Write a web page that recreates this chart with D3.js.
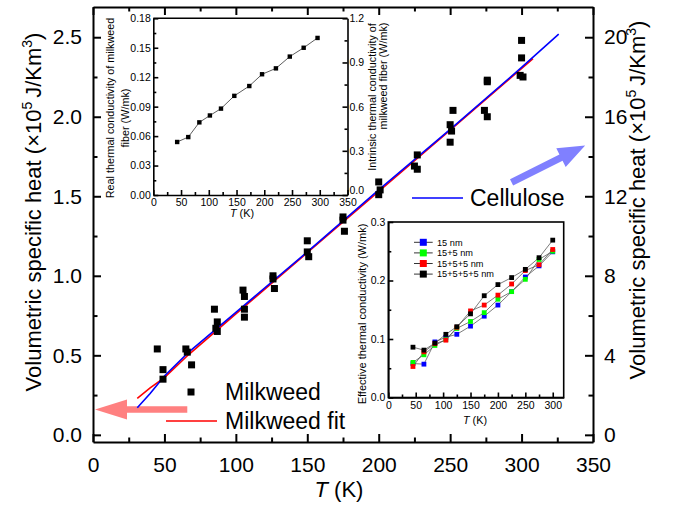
<!DOCTYPE html>
<html>
<head>
<meta charset="utf-8">
<script src="https://cdn.jsdelivr.net/npm/d3@7"></script>
<style>
  body { margin: 0; background: #fff; }
  svg { font-family: "Liberation Sans", Arial, sans-serif; }
</style>
</head>
<body>
<svg id="chart" width="674" height="505"></svg>
<script>
// main panel: milkweed volumetric specific heat (x1e5 J/Km^3)
var milkT = [45, 49, 49, 65, 66, 69, 85, 87, 86, 87, 105, 106, 106, 106, 126, 126, 127, 150, 150, 151,
             175, 175, 176, 200, 201, 200, 227, 225, 227, 252, 250, 251, 250, 276, 276, 274, 276, 300, 300, 299, 301];
var milkC = [0.54, 0.41, 0.35, 0.54, 0.52, 0.44, 0.79, 0.71, 0.67, 0.65, 0.91, 0.87, 0.79, 0.74, 1.00, 0.98, 0.92, 1.22, 1.15, 1.12,
             1.37, 1.35, 1.28, 1.59, 1.54, 1.51, 1.76, 1.69, 1.67, 2.04, 1.95, 1.91, 1.84, 2.23, 2.22, 2.04, 2.00, 2.48, 2.37, 2.26, 2.25];

// milkweed fit (red) and cellulose (blue)
var fitT = [31, 40, 50, 67, 100, 150, 200, 250, 308];
var fitC = [0.23, 0.295, 0.36, 0.505, 0.76, 1.145, 1.53, 1.915, 2.365];
var celT = [31, 40, 50, 67, 100, 150, 200, 250, 300, 326];
var celC = [0.17, 0.26, 0.37, 0.52, 0.77, 1.15, 1.54, 1.92, 2.31, 2.52];

// top-left inset: real thermal conductivity of milkweed fiber
var realT = [43, 63, 83, 102, 122, 146, 173, 196, 221, 246, 271, 296];
var realK = [0.054, 0.059, 0.074, 0.081, 0.088, 0.101, 0.111, 0.123, 0.129, 0.141, 0.150, 0.160];

// bottom-right inset: effective thermal conductivity
var effT = [45, 65, 85, 105, 125, 150, 175, 200, 225, 250, 275, 300];
var effNames = ["15 nm", "15+5 nm", "15+5+5 nm", "15+5+5+5 nm"];
var effColors = ["#0000ff", "#00ff00", "#ff0000", "#000000"];
var eff15 = [0.058, 0.057, 0.095, 0.103, 0.108, 0.122, 0.139, 0.158, 0.181, 0.206, 0.225, 0.249];
var eff155 = [0.060, 0.073, 0.089, 0.099, 0.118, 0.130, 0.145, 0.168, 0.181, 0.202, 0.236, 0.250];
var eff1555 = [0.053, 0.078, 0.092, 0.098, 0.120, 0.148, 0.158, 0.175, 0.194, 0.217, 0.227, 0.253];
var eff15555 = [0.086, 0.081, 0.093, 0.108, 0.121, 0.143, 0.174, 0.193, 0.205, 0.219, 0.239, 0.269];

// tick values
var xTicks = [0, 50, 100, 150, 200, 250, 300, 350];
var yTicks = [0, 0.5, 1.0, 1.5, 2.0, 2.5];
var y2Ticks = [0, 4, 8, 12, 16, 20];

var svg = d3.select("#chart");
var margin = {top: 7, right: 81, bottom: 63, left: 93};
var width = 674 - margin.left - margin.right,
    height = 505 - margin.top - margin.bottom;

var g = svg.append("g").attr("transform", "translate(" + margin.left + "," + margin.top + ")");

var x = d3.scaleLinear().domain([0, 350]).range([0, width]);
var y = d3.scaleLinear().domain([-0.045, 2.69]).range([height, 0]);
var y2 = d3.scaleLinear().domain([-0.36, 21.52]).range([height, 0]);

function minors(majors, step) {
  var out = [];
  for (var i = 0; i < majors.length - 1; i++) out.push(majors[i] + step);
  return out;
}

function styleAxis(sel, w) {
  sel.select(".domain").attr("stroke", "#000").attr("stroke-width", w);
  sel.selectAll(".tick line").attr("stroke", "#000").attr("stroke-width", w);
  sel.selectAll(".tick text").attr("fill", "#000");
}

// ---- main axes ----
var bottomAx = g.append("g").attr("transform", "translate(0," + height + ")")
  .call(d3.axisBottom(x).tickValues(xTicks).tickFormat(d3.format("d")).tickSize(-8).tickSizeOuter(0).tickPadding(15))
  .attr("font-size", 21).attr("font-family", null);
styleAxis(bottomAx, 2);
g.append("g").attr("transform", "translate(0," + height + ")")
  .call(d3.axisBottom(x).tickValues(minors(xTicks, 25)).tickFormat("").tickSize(-4.5).tickSizeOuter(0))
  .call(styleAxis, 2).select(".domain").remove();

var topAx = g.append("g")
  .call(d3.axisTop(x).tickValues(xTicks).tickFormat("").tickSize(-8).tickSizeOuter(0));
styleAxis(topAx, 2);
g.append("g")
  .call(d3.axisTop(x).tickValues(minors(xTicks, 25)).tickFormat("").tickSize(-4.5).tickSizeOuter(0))
  .call(styleAxis, 2).select(".domain").remove();

var leftAx = g.append("g")
  .call(d3.axisLeft(y).tickValues(yTicks).tickFormat(d3.format(".1f")).tickSize(-8).tickSizeOuter(0).tickPadding(11))
  .attr("font-size", 21).attr("font-family", null);
styleAxis(leftAx, 2);
g.append("g")
  .call(d3.axisLeft(y).tickValues(minors(yTicks, 0.25)).tickFormat("").tickSize(-4.5).tickSizeOuter(0))
  .call(styleAxis, 2).select(".domain").remove();

var rightAx = g.append("g").attr("transform", "translate(" + width + ",0)")
  .call(d3.axisRight(y2).tickValues(y2Ticks).tickFormat(d3.format("d")).tickSize(-8).tickSizeOuter(0).tickPadding(11))
  .attr("font-size", 21).attr("font-family", null);
styleAxis(rightAx, 2);
g.append("g").attr("transform", "translate(" + width + ",0)")
  .call(d3.axisRight(y2).tickValues(minors(y2Ticks, 2)).tickFormat("").tickSize(-4.5).tickSizeOuter(0))
  .call(styleAxis, 2).select(".domain").remove();

// axis titles
function heatTitle(t) {
  t.append("tspan").text("Volumetric specific heat (\u00d710");
  t.append("tspan").attr("dy", -9).attr("font-size", 14).text("5 ");
  t.append("tspan").attr("dy", 9).text("J/Km");
  t.append("tspan").attr("dy", -9).attr("font-size", 14).text("3");
  t.append("tspan").attr("dy", 9).text(")");
}
svg.append("text").attr("transform", "translate(41,212) rotate(-90)")
  .attr("text-anchor", "middle").attr("font-size", 22).call(heatTitle);
svg.append("text").attr("transform", "translate(645,200) rotate(-90)")
  .attr("text-anchor", "middle").attr("font-size", 22).call(heatTitle);

var xt = svg.append("text").attr("x", 339).attr("y", 497).attr("text-anchor", "middle").attr("font-size", 22);
xt.append("tspan").attr("font-style", "italic").text("T");
xt.append("tspan").text(" (K)");

// ---- arrows ----
function arrow(x0, y0, x1, y1, shaft, headLen, headW, color) {
  var dx = x1 - x0, dy = y1 - y0, L = Math.sqrt(dx * dx + dy * dy);
  var ux = dx / L, uy = dy / L, nx = -uy, ny = ux;
  var bx = x1 - ux * headLen, by = y1 - uy * headLen;
  var pts = [
    [x0 + nx * shaft / 2, y0 + ny * shaft / 2],
    [bx + nx * shaft / 2, by + ny * shaft / 2],
    [bx + nx * headW, by + ny * headW],
    [x1, y1],
    [bx - nx * headW, by - ny * headW],
    [bx - nx * shaft / 2, by - ny * shaft / 2],
    [x0 - nx * shaft / 2, y0 - ny * shaft / 2]
  ];
  g.append("polygon").attr("points", pts.map(function(p) { return p.join(","); }).join(" "))
    .attr("fill", color);
}
arrow(x(66), y(0.16), x(1.4), y(0.16), 6.5, 32, 10, "#ff8080");
arrow(x(293), y2(12.7), x(344.5), y2(14.55), 7, 27, 10.5, "#8080ff");

// ---- lines ----
var fitLine = d3.line().x(function(d) { return x(d[0]); }).y(function(d) { return y(d[1]); });
g.append("path").datum(d3.zip(fitT, fitC)).attr("d", fitLine)
  .attr("fill", "none").attr("stroke", "#ff0000").attr("stroke-width", 1.6);
g.append("path").datum(d3.zip(celT, celC)).attr("d", fitLine)
  .attr("fill", "none").attr("stroke", "#0000ff").attr("stroke-width", 1.6);

// ---- points ----
g.selectAll(".pt").data(d3.zip(milkT, milkC)).enter().append("rect")
  .attr("class", "pt")
  .attr("x", function(d) { return x(d[0]) - 3.5; })
  .attr("y", function(d) { return y(d[1]) - 3.5; })
  .attr("width", 7).attr("height", 7).attr("fill", "#000");

// ---- main legends ----
svg.append("rect").attr("x", 187.5).attr("y", 388.5).attr("width", 7).attr("height", 7).attr("fill", "#000");
svg.append("text").attr("x", 225).attr("y", 400).attr("font-size", 23).text("Milkweed");
svg.append("line").attr("x1", 166).attr("x2", 217).attr("y1", 421).attr("y2", 421)
  .attr("stroke", "#ff0000").attr("stroke-width", 1.6);
svg.append("text").attr("x", 225).attr("y", 429).attr("font-size", 23).text("Milkweed fit");
svg.append("line").attr("x1", 412).attr("x2", 463).attr("y1", 198).attr("y2", 198)
  .attr("stroke", "#0000ff").attr("stroke-width", 1.6);
svg.append("text").attr("x", 470).attr("y", 206).attr("font-size", 23).text("Cellulose");

// ---- inset 1: real / intrinsic thermal conductivity ----
var i1 = {left: 153.3, top: 18.3, w: 194.2, h: 176.7};
var ig = svg.append("g").attr("transform", "translate(" + i1.left + "," + i1.top + ")");
var ix = d3.scaleLinear().domain([0, 350]).range([0, i1.w]);
var iy = d3.scaleLinear().domain([0, 0.18]).range([i1.h, 0]);
var iy2 = d3.scaleLinear().domain([0, 1.2]).range([i1.h, 0]);

ig.append("rect").attr("width", i1.w).attr("height", i1.h).attr("fill", "#fff");
ig.append("line").attr("x1", 0).attr("x2", i1.w).attr("stroke", "#000").attr("stroke-width", 1.6);

var ib = ig.append("g").attr("transform", "translate(0," + i1.h + ")")
  .call(d3.axisBottom(ix).tickValues([0, 50, 100, 150, 200, 250, 300, 350]).tickFormat(d3.format("d"))
    .tickSize(-5).tickSizeOuter(0).tickPadding(4))
  .attr("font-size", 10.5).attr("font-family", null);
styleAxis(ib, 1.6);
ig.append("g").attr("transform", "translate(0," + i1.h + ")")
  .call(d3.axisBottom(ix).tickValues([25, 75, 125, 175, 225, 275, 325]).tickFormat("").tickSize(-3).tickSizeOuter(0))
  .call(styleAxis, 1.6).select(".domain").remove();

var il = ig.append("g")
  .call(d3.axisLeft(iy).tickValues([0, 0.03, 0.06, 0.09, 0.12, 0.15, 0.18]).tickFormat(d3.format(".2f"))
    .tickSize(-5).tickSizeOuter(0).tickPadding(2.5))
  .attr("font-size", 10.5).attr("font-family", null);
styleAxis(il, 1.6);
ig.append("g")
  .call(d3.axisLeft(iy).tickValues([0.015, 0.045, 0.075, 0.105, 0.135, 0.165]).tickFormat("").tickSize(-3).tickSizeOuter(0))
  .call(styleAxis, 1.6).select(".domain").remove();

var ir = ig.append("g").attr("transform", "translate(" + i1.w + ",0)")
  .call(d3.axisRight(iy2).tickValues([0, 0.3, 0.6, 0.9, 1.2]).tickFormat(d3.format(".1f"))
    .tickSize(-5).tickSizeOuter(0).tickPadding(2))
  .attr("font-size", 10.5).attr("font-family", null);
styleAxis(ir, 1.6);
// the bottom label sits right above the "350" of the x axis; lift it a little
ir.selectAll(".tick text").filter(function(d) { return d === 0; }).attr("dy", "-0.12em");
ig.append("g").attr("transform", "translate(" + i1.w + ",0)")
  .call(d3.axisRight(iy2).tickValues([0.15, 0.45, 0.75, 1.05]).tickFormat("").tickSize(-3).tickSizeOuter(0))
  .call(styleAxis, 1.6).select(".domain").remove();

ig.append("path").datum(d3.zip(realT, realK))
  .attr("d", d3.line().x(function(d) { return ix(d[0]); }).y(function(d) { return iy(d[1]); }))
  .attr("fill", "none").attr("stroke", "#333").attr("stroke-width", 0.8);
ig.selectAll(".ipt").data(d3.zip(realT, realK)).enter().append("rect")
  .attr("class", "ipt")
  .attr("x", function(d) { return ix(d[0]) - 2.2; })
  .attr("y", function(d) { return iy(d[1]) - 2.2; })
  .attr("width", 4.4).attr("height", 4.4).attr("fill", "#000");

svg.append("text").attr("transform", "translate(114,108) rotate(-90)").attr("text-anchor", "middle")
  .attr("font-size", 10.8).text("Real thermal conductivity of milkweed");
svg.append("text").attr("transform", "translate(129,118) rotate(-90)").attr("text-anchor", "middle")
  .attr("font-size", 10.8).text("fiber (W/mk)");
svg.append("text").attr("transform", "translate(375.5,97) rotate(-90)").attr("text-anchor", "middle")
  .attr("font-size", 10.8).text("Intrinsic thermal conductivity of");
svg.append("text").attr("transform", "translate(387,76) rotate(-90)").attr("text-anchor", "middle")
  .attr("font-size", 10.8).text("milkweed fiber (W/mk)");
var it1 = svg.append("text").attr("x", 242).attr("y", 217).attr("text-anchor", "middle").attr("font-size", 10.8);
it1.append("tspan").attr("font-style", "italic").text("T");
it1.append("tspan").text(" (K)");

// ---- inset 2: effective thermal conductivity ----
var i2 = {left: 388.3, top: 222, w: 175.4, h: 175.5};
var eg = svg.append("g").attr("transform", "translate(" + i2.left + "," + i2.top + ")");
var ex = d3.scaleLinear().domain([0, 320]).range([0, i2.w]);
var ey = d3.scaleLinear().domain([0, 0.3]).range([i2.h, 0]);

eg.append("rect").attr("width", i2.w).attr("height", i2.h).attr("fill", "#fff")
  .attr("stroke", "#000").attr("stroke-width", 1.6);

var eb = eg.append("g").attr("transform", "translate(0," + i2.h + ")")
  .call(d3.axisBottom(ex).tickValues([0, 50, 100, 150, 200, 250, 300]).tickFormat(d3.format("d"))
    .tickSize(-5).tickSizeOuter(0).tickPadding(4))
  .attr("font-size", 10.5).attr("font-family", null);
styleAxis(eb, 1.6);
eg.append("g").attr("transform", "translate(0," + i2.h + ")")
  .call(d3.axisBottom(ex).tickValues([25, 75, 125, 175, 225, 275]).tickFormat("").tickSize(-3).tickSizeOuter(0))
  .call(styleAxis, 1.6).select(".domain").remove();

var el = eg.append("g")
  .call(d3.axisLeft(ey).tickValues([0, 0.1, 0.2, 0.3]).tickFormat(d3.format(".1f"))
    .tickSize(-5).tickSizeOuter(0).tickPadding(3))
  .attr("font-size", 10.5).attr("font-family", null);
styleAxis(el, 1.6);
eg.append("g")
  .call(d3.axisLeft(ey).tickValues([0.05, 0.15, 0.25]).tickFormat("").tickSize(-3).tickSizeOuter(0))
  .call(styleAxis, 1.6).select(".domain").remove();

var effSeries = [eff15, eff155, eff1555, eff15555];
var effLine = d3.line().x(function(d) { return ex(d[0]); }).y(function(d) { return ey(d[1]); });
effSeries.forEach(function(s) {
  eg.append("path").datum(d3.zip(effT, s)).attr("d", effLine)
    .attr("fill", "none").attr("stroke", "#444").attr("stroke-width", 0.7);
});
effSeries.forEach(function(s, i) {
  eg.selectAll(".ept" + i).data(d3.zip(effT, s)).enter().append("rect")
    .attr("x", function(d) { return ex(d[0]) - 2.4; })
    .attr("y", function(d) { return ey(d[1]) - 2.4; })
    .attr("width", 4.8).attr("height", 4.8).attr("fill", effColors[i]);
});

// legend
effNames.forEach(function(name, i) {
  var ly = 242.3 + i * 10.6;
  svg.append("line").attr("x1", 414).attr("x2", 432.7).attr("y1", ly).attr("y2", ly)
    .attr("stroke", "#000").attr("stroke-width", 0.8);
  svg.append("rect").attr("x", 419.8).attr("y", ly - 3.5).attr("width", 7).attr("height", 7).attr("fill", effColors[i]);
  svg.append("text").attr("x", 437).attr("y", ly + 3.3).attr("font-size", 9.2).text(name);
});

svg.append("text").attr("transform", "translate(366,314) rotate(-90)").attr("text-anchor", "middle")
  .attr("font-size", 11).text("Effective thermal conductivity (W/mk)");
var it2 = svg.append("text").attr("x", 475).attr("y", 424).attr("text-anchor", "middle").attr("font-size", 10.8);
it2.append("tspan").attr("font-style", "italic").text("T");
it2.append("tspan").text(" (K)");
</script>
</body>
</html>
